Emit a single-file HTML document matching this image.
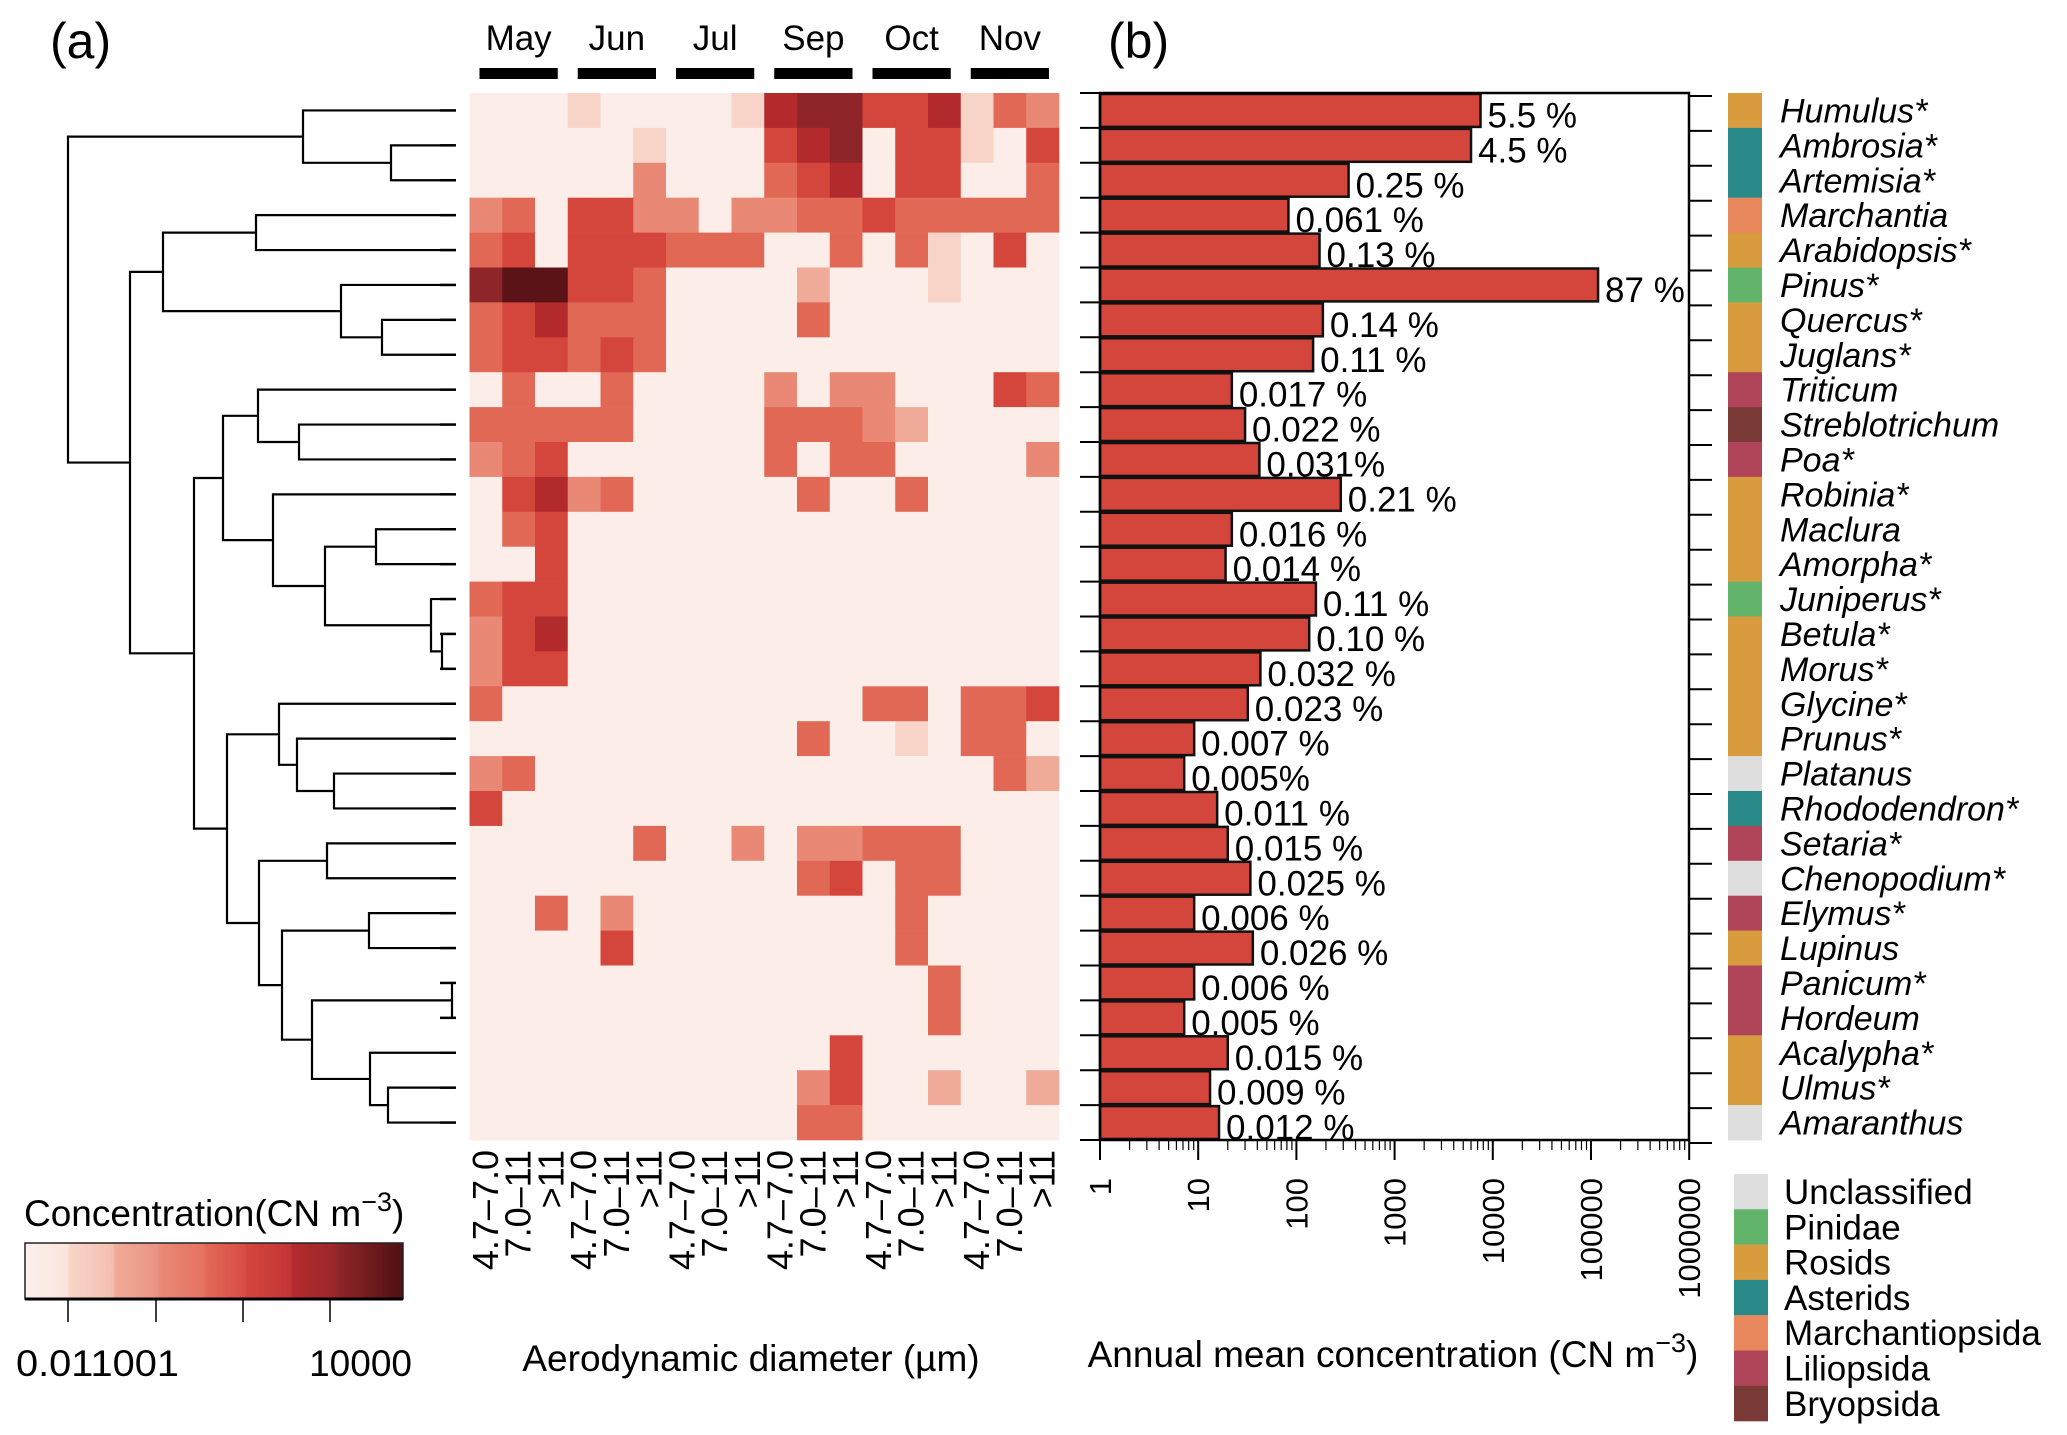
<!DOCTYPE html>
<html><head><meta charset="utf-8"><style>
html,body{margin:0;padding:0;background:#fff;}
svg{display:block;font-family:"Liberation Sans",sans-serif;}
</style></head><body>
<svg id="fig" width="2067" height="1435" viewBox="0 0 2067 1435" xmlns="http://www.w3.org/2000/svg">
<defs>
<linearGradient id="cbar" x1="0" x2="1" y1="0" y2="0">
<stop offset="0" stop-color="#fdf0ec"/><stop offset="0.11" stop-color="#fbe4dc"/>
<stop offset="0.12" stop-color="#f8d4c8"/><stop offset="0.23" stop-color="#f4c0b2"/>
<stop offset="0.24" stop-color="#f0aa98"/><stop offset="0.35" stop-color="#ea9482"/>
<stop offset="0.36" stop-color="#e88875"/><stop offset="0.47" stop-color="#e47462"/>
<stop offset="0.48" stop-color="#e26856"/><stop offset="0.58" stop-color="#d84e44"/>
<stop offset="0.59" stop-color="#d4453c"/><stop offset="0.7" stop-color="#c33636"/>
<stop offset="0.71" stop-color="#b32a2d"/><stop offset="0.82" stop-color="#9a282b"/>
<stop offset="0.83" stop-color="#8e2629"/><stop offset="0.92" stop-color="#6e1a1e"/>
<stop offset="1" stop-color="#4e1014"/>
</linearGradient>
</defs>
<text x="50" y="58" font-size="50">(a)</text>
<text x="1108" y="58" font-size="50">(b)</text>
<g id="dendro"></g>
<g id="heat"></g>
<g id="months"></g>
<g id="xlabs"></g>
<text x="751" y="1371" font-size="37" text-anchor="middle">Aerodynamic diameter (µm)</text>
<g>
<text x="24" y="1226" font-size="37">Concentration(CN m<tspan baseline-shift="super" font-size="27">−3</tspan>)</text>
<rect x="25" y="1243" width="378" height="56" fill="url(#cbar)" stroke="#222" stroke-width="1.5"/>
<line x1="25" y1="1299" x2="403" y2="1299" stroke="#000" stroke-width="3"/>
<g id="cticks"></g>
<text x="16" y="1376" font-size="37" textLength="163" lengthAdjust="spacingAndGlyphs">0.011001</text>
<text x="412" y="1376" font-size="37" text-anchor="end">10000</text>
</g>
<g id="bars"></g>
<g id="legend"></g>
<text x="1393" y="1367" font-size="37" text-anchor="middle">Annual mean concentration (CN m<tspan baseline-shift="super" font-size="27">−3</tspan>)</text>
</svg>
<script>
// ---------- data ----------
const months = ["May","Jun","Jul","Sep","Oct","Nov"];
const sizeBins = ["4.7–7.0","7.0–11",">11"];
const species = ["Humulus*","Ambrosia*","Artemisia*","Marchantia","Arabidopsis*","Pinus*","Quercus*","Juglans*","Triticum","Streblotrichum","Poa*","Robinia*","Maclura","Amorpha*","Juniperus*","Betula*","Morus*","Glycine*","Prunus*","Platanus","Rhododendron*","Setaria*","Chenopodium*","Elymus*","Lupinus","Panicum*","Hordeum","Acalypha*","Ulmus*","Amaranthus"];
const speciesClass = ["R","A","A","M","R","P","R","R","L","B","L","R","R","R","P","R","R","R","R","U","A","L","U","L","R","L","L","R","R","U"];
const annualMean = [7500,6000,340,83,172,118000,186,148,22,30,42,283,22,19,158,135,43,32,9.1,7.2,15.6,20,34,9.1,36,9.1,7.2,20,13.2,16.3];
const pctLabels = ["5.5 %","4.5 %","0.25 %","0.061 %","0.13 %","87 %","0.14 %","0.11 %","0.017 %","0.022  %","0.031%","0.21 %","0.016 %","0.014 %","0.11 %","0.10 %","0.032 %","0.023 %","0.007  %","0.005%","0.011 %","0.015 %","0.025 %","0.006 %","0.026 %","0.006 %","0.005 %","0.015 %","0.009 %","0.012 %"];
const xTicks = [1,10,100,1000,10000,100000,1000000];
const heat = [
[0,0,0,1,0,0,0,0,1,6,7,7,5,5,6,1,4,3],
[0,0,0,0,0,1,0,0,0,5,6,7,0,5,5,1,0,5],
[0,0,0,0,0,3,0,0,0,4,5,6,0,5,5,0,0,4],
[3,4,0,5,5,3,3,0,3,3,4,4,5,4,4,4,4,4],
[4,5,0,5,5,5,4,4,4,0,0,4,0,4,1,0,5,0],
[7,8,8,5,5,4,0,0,0,0,2,0,0,0,1,0,0,0],
[4,5,6,4,4,4,0,0,0,0,4,0,0,0,0,0,0,0],
[4,5,5,4,5,4,0,0,0,0,0,0,0,0,0,0,0,0],
[0,4,0,0,4,0,0,0,0,3,0,3,3,0,0,0,5,4],
[4,4,4,4,4,0,0,0,0,4,4,4,3,2,0,0,0,0],
[3,4,5,0,0,0,0,0,0,4,0,4,4,0,0,0,0,3],
[0,5,6,3,4,0,0,0,0,0,4,0,0,4,0,0,0,0],
[0,4,5,0,0,0,0,0,0,0,0,0,0,0,0,0,0,0],
[0,0,5,0,0,0,0,0,0,0,0,0,0,0,0,0,0,0],
[4,5,5,0,0,0,0,0,0,0,0,0,0,0,0,0,0,0],
[3,5,6,0,0,0,0,0,0,0,0,0,0,0,0,0,0,0],
[3,5,5,0,0,0,0,0,0,0,0,0,0,0,0,0,0,0],
[4,0,0,0,0,0,0,0,0,0,0,0,4,4,0,4,4,5],
[0,0,0,0,0,0,0,0,0,0,4,0,0,1,0,4,4,0],
[3,4,0,0,0,0,0,0,0,0,0,0,0,0,0,0,4,2],
[5,0,0,0,0,0,0,0,0,0,0,0,0,0,0,0,0,0],
[0,0,0,0,0,4,0,0,3,0,3,3,4,4,4,0,0,0],
[0,0,0,0,0,0,0,0,0,0,4,5,0,4,4,0,0,0],
[0,0,4,0,3,0,0,0,0,0,0,0,0,4,0,0,0,0],
[0,0,0,0,5,0,0,0,0,0,0,0,0,4,0,0,0,0],
[0,0,0,0,0,0,0,0,0,0,0,0,0,0,4,0,0,0],
[0,0,0,0,0,0,0,0,0,0,0,0,0,0,4,0,0,0],
[0,0,0,0,0,0,0,0,0,0,0,5,0,0,0,0,0,0],
[0,0,0,0,0,0,0,0,0,0,3,5,0,0,2,0,0,2],
[0,0,0,0,0,0,0,0,0,0,4,4,0,0,0,0,0,0]
];
const legendNames = ["Unclassified","Pinidae","Rosids","Asterids","Marchantiopsida","Liliopsida","Bryopsida"];
const legendKeys = ["U","P","R","A","M","L","B"];
const tree = [68,[303,0,[391,1,2]],[130,[163,[256,3,4],[341,5,[382,6,7]]],[194,[223,[258,8,[299,9,10]],[273,11,[325,[376,12,13],[431,14,[442,15,16]]]]],[227,[279,17,[297,18,[334,19,20]]],[259,[327,21,22],[282,[369,23,24],[312,[452,25,26],[370,27,[388,28,29]]]]]]]]];

// ---------- styles ----------
const levelColors = ["#fdede9","#f8d4c8","#f0aa98","#e88875","#e26856","#d4453c","#b32a2d","#8e2629","#5c1318"];
const classColors = {U:"#dedede",P:"#62b46a",R:"#d89c3e",A:"#2a8a8a",M:"#e8885c",L:"#b0455a",B:"#7a3a38"};
const NS = "http://www.w3.org/2000/svg";
function mk(parent, tag, attrs, text){
  const e = document.createElementNS(NS, tag);
  for (const k in attrs) e.setAttribute(k, attrs[k]);
  if (text !== undefined) e.textContent = text;
  parent.appendChild(e); return e;
}
const top0 = 93, rowH = 34.9;
const heatX0 = 469.5, colW = 32.75;
const rowY = i => top0 + rowH * i;
const rowC = i => top0 + rowH * (i + 0.5);
const logX = v => 1100 + 98.2 * Math.log10(v);

// ---------- heatmap ----------
const gh = document.getElementById('heat');
heat.forEach((row, r) => row.forEach((lv, c) => {
  const el = mk(gh, 'rect', {x: heatX0 + c*colW, y: rowY(r), width: colW+0.3, height: rowH+0.3, fill: levelColors[lv]});
  
  
}));
heat.forEach((row, r) => {
  const t = mk(gh, 'line', {x1: 440, x2: 456, y1: rowC(r), y2: rowC(r), stroke: '#000', 'stroke-width': 2.5});
  
  
});

// ---------- months ----------
const gm = document.getElementById('months');
months.forEach((m, i) => {
  const x0 = heatX0 + i*3*colW;
  const t = mk(gm, 'text', {x: x0 + 1.5*colW, y: 50, 'font-size': 35, 'text-anchor': 'middle'}, m);
  
  
  const b = mk(gm, 'rect', {x: x0 + 10, y: 68, width: 3*colW - 20, height: 11, fill: '#000'});
  
  
});

// ---------- x labels ----------
const gx = document.getElementById('xlabs');
for (let c = 0; c < 18; c++) {
  const cx = heatX0 + (c + 0.5)*colW + 12;
  const t = mk(gx, 'text', {x: 0, y: 0, 'font-size': 36, 'text-anchor': 'end', transform: `translate(${cx},1150) rotate(-90)`}, sizeBins[c % 3]);
  
  
}

// ---------- dendrogram ----------
const gd = document.getElementById('dendro');
const leafX = 455;
function draw(node){
  if (typeof node === 'number') return {x: leafX, y: rowC(node)};
  const [hx, l, r] = node;
  const a = draw(l), b = draw(r);
  const p = mk(gd, 'path', {d: `M${a.x},${a.y}H${hx}V${b.y}H${b.x}`, fill: 'none', stroke: '#000', 'stroke-width': 2.2});
  
  
  return {x: hx, y: (a.y + b.y)/2};
}
draw(tree);

// ---------- color key ticks ----------
const gc = document.getElementById('cticks');
[68,156,243,330].forEach(x => {
  const l = mk(gc, 'line', {x1: x, x2: x, y1: 1300, y2: 1322, stroke: '#000', 'stroke-width': 1.5});
  
  
});

// ---------- bar chart ----------
const gb = document.getElementById('bars');
const boxL = 1100, boxR = 1689, boxB = rowY(30);
annualMean.forEach((v, i) => {
  const xe = logX(v);
  const b = mk(gb, 'rect', {x: boxL, y: rowY(i)+1, width: xe - boxL, height: rowH - 2, fill: '#d4453c', stroke: '#111', 'stroke-width': 2.5});
  
  
});
annualMean.forEach((v, i) => {
  const xe = logX(v);
  const t = mk(gb, 'text', {x: xe + 7, y: rowC(i) + 17, 'font-size': 35}, pctLabels[i]);
  
  
});
mk(gb, 'rect', {x: boxL, y: top0, width: boxR - boxL, height: boxB - top0, fill: 'none', stroke: '#000', 'stroke-width': 2.5});
for (let i = 0; i <= 30; i++) {
  const y = rowY(i);
  const l1 = mk(gb, 'line', {x1: 1080, x2: boxL, y1: y, y2: y, stroke: '#000', 'stroke-width': 2});
  
  
  const l2 = mk(gb, 'line', {x1: boxR, x2: 1712, y1: y + 3, y2: y + 3, stroke: '#000', 'stroke-width': 2});
  
  
}
xTicks.forEach((v, k) => {
  const x = logX(v);
  const l = mk(gb, 'line', {x1: x, x2: x, y1: boxB, y2: boxB + 20, stroke: '#000', 'stroke-width': 2});
  
  
  const t = mk(gb, 'text', {x: 0, y: 0, 'font-size': 31, 'text-anchor': 'end', transform: `translate(${x + 11},1178) rotate(-90)`}, String(v));
  
  
  if (k < xTicks.length - 1) {
    for (let m = 2; m <= 9; m++) {
      const xm = logX(v*m);
      const ml = mk(gb, 'line', {x1: xm, x2: xm, y1: boxB, y2: boxB + 10, stroke: '#000', 'stroke-width': 1.2});
      
      
    }
  }
});

// ---------- species strip & labels ----------
species.forEach((s, i) => {
  const r = mk(gb, 'rect', {x: 1728, y: rowY(i), width: 34, height: rowH + 0.5, fill: classColors[speciesClass[i]]});
  
  
  const t = mk(gb, 'text', {x: 1780, y: rowC(i) + 12, 'font-size': 34, 'font-style': 'italic'}, s);
  
  
});

// ---------- legend ----------
const gl = document.getElementById('legend');
legendNames.forEach((n, i) => {
  const y = 1174 + i*35.3;
  const r = mk(gl, 'rect', {x: 1734, y: y, width: 34, height: 35.5, fill: classColors[legendKeys[i]]});
  
  
  const t = mk(gl, 'text', {x: 1784, y: y + 30, 'font-size': 35}, n);
  
  
});
</script>
</body></html>
